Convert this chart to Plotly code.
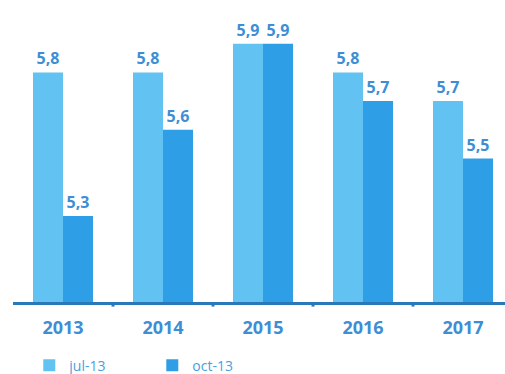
import plotly.graph_objects as go

years = ["2013", "2014", "2015", "2016", "2017"]
jul_13 = [5.8, 5.8, 5.9, 5.8, 5.7]
oct_13 = [5.3, 5.6, 5.9, 5.7, 5.5]
series_names = ["jul-13", "oct-13"]

c_jul = "#62c2f2"
c_oct = "#2e9fe6"
c_text = "#3d8ed5"
c_axis = "#2a78b8"

fig = go.Figure()
for name, vals, col in [(series_names[0], jul_13, c_jul), (series_names[1], oct_13, c_oct)]:
    fig.add_trace(go.Bar(
        x=years, y=vals, name=name,
        marker=dict(color=col, line=dict(width=0)),
        texttemplate="%{y:.1f}", textposition="outside",
        textfont=dict(family="Open Sans", size=16, color=c_text, weight="bold"),
        constraintext="none", cliponaxis=False,
    ))

fig.update_layout(
    width=505, height=374,
    margin=dict(l=13, r=0, t=15, b=72),
    paper_bgcolor="white", plot_bgcolor="white",
    barmode="group", bargap=0.4, bargroupgap=0,
    separators=",.",
    showlegend=True,
    legend=dict(
        orientation="h", xref="container", yref="container",
        x=0.058, y=0.022, xanchor="left", yanchor="middle",
        font=dict(family="Open Sans", size=14, color="#4aa0dc"),
        entrywidth=78, entrywidthmode="pixels",
        itemsizing="constant", bgcolor="rgba(0,0,0,0)",
    ),
    xaxis=dict(
        range=[-0.5, 4.42], showgrid=False, zeroline=False,
        showline=True, linecolor=c_axis, linewidth=3,
        ticks="", ticklabelstandoff=7,
        tickfont=dict(family="Open Sans", size=18, color=c_text, weight="bold"),
    ),
    yaxis=dict(
        range=[5.0, 6.0], showgrid=False, zeroline=False,
        showticklabels=False, showline=False,
    ),
)

# small tick marks between the year groups
for i in range(len(years) - 1):
    fig.add_shape(type="line", xref="x", yref="paper",
                  x0=i + 0.5, x1=i + 0.5, y0=0, y1=-0.016,
                  line=dict(color=c_axis, width=3))

fig.write_html("out.html")
